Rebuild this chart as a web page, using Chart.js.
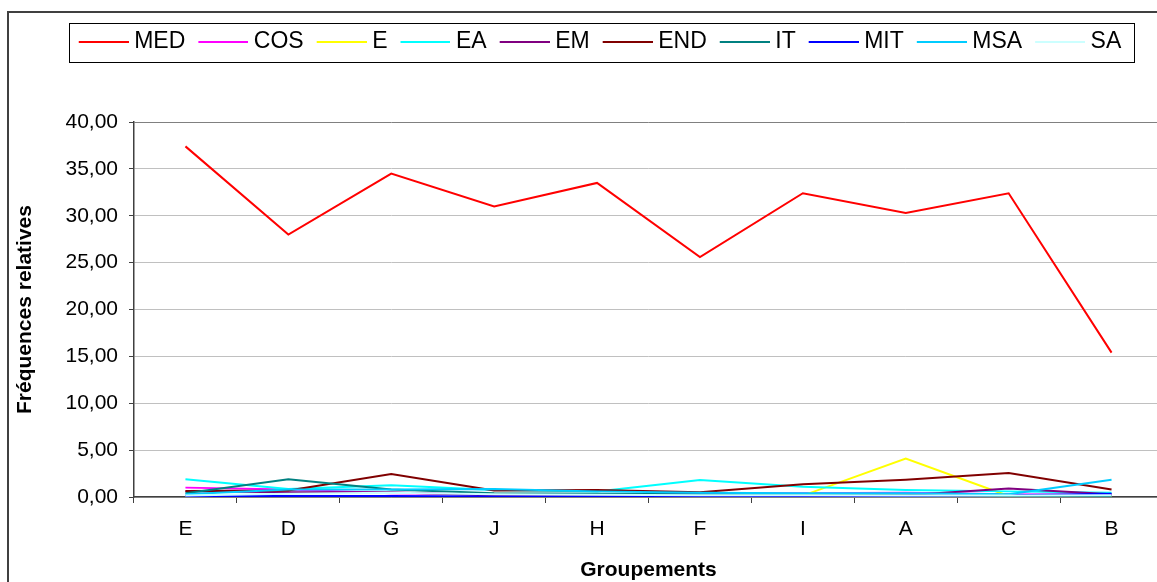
<!DOCTYPE html>
<html>
<head>
<meta charset="utf-8">
<script src="https://cdn.jsdelivr.net/npm/chart.js@4.4.0/dist/chart.umd.min.js"></script>
<style>
  html, body { margin: 0; padding: 0; overflow: hidden; background: #fff; }
  #wrap { width: 1157px; height: 582px; overflow: hidden; }
</style>
</head>
<body>
<div id="wrap"><canvas id="chart" width="1163" height="582"></canvas></div>
<script>
const groupements = ["E", "D", "G", "J", "H", "F", "I", "A", "C", "B"];
const yTickValues = [0, 5, 10, 15, 20, 25, 30, 35, 40];

const med = [37.4, 28.0, 34.5, 31.0, 33.5, 25.6, 32.4, 30.3, 32.4, 15.4];
const cos = [1.0, 0.8, 0.4, 0.3, 0.2, 0.4, 0.4, 0.45, 0.3, 0.2];
const eSerie = [0, 0, 0, 0, 0, 0, 0.15, 4.1, 0.1, 0];
const ea = [1.9, 0.85, 1.25, 0.75, 0.6, 1.8, 1.1, 0.75, 0.6, 0.45];
const em = [0.6, 0.5, 0.5, 0.15, 0.1, 0.2, 0.2, 0.2, 0.9, 0.3];
const endSerie = [0.65, 0.7, 2.45, 0.7, 0.75, 0.5, 1.35, 1.85, 2.55, 0.8];
const it = [0.4, 1.9, 0.8, 0.4, 0.35, 0.3, 0.25, 0.2, 0.1, 0.1];
const mit = [0.1, 0.1, 0.1, 0.05, 0.05, 0.0, 0.1, 0.1, 0.2, 0.35];
const msa = [0.3, 0.8, 0.8, 0.85, 0.6, 0.45, 0.4, 0.4, 0.3, 1.85];
const sa = [0.15, 0.35, 0.45, 0.3, 0.25, 0.2, 0.2, 0.15, 0.15, 0.2];

const seriesNames = ["MED", "COS", "E", "EA", "EM", "END", "IT", "MIT", "MSA", "SA"];
const seriesData = [med, cos, eSerie, ea, em, endSerie, it, mit, msa, sa];
const seriesColors = ["#ff0000", "#ff00ff", "#ffff00", "#00ffff", "#800080",
                      "#800000", "#008080", "#0000ff", "#00ccff", "#ccffff"];

Chart.defaults.font.family = "'Liberation Sans', Arial, sans-serif";
Chart.defaults.color = "#000";

// little line image for the legend, so the text sits close to its line
function legendLine(color) {
  const c = document.createElement("canvas");
  c.width = 56;
  c.height = 2;
  const g = c.getContext("2d");
  g.fillStyle = color;
  g.fillRect(6, 0, 50, 2);
  return c;
}

// excel-like frames: outer border + box around the legend
const frames = {
  id: "frames",
  afterLayout(chart) {
    const lg = chart.legend;
    const shift = 600 - (lg.left + lg.right) / 2;
    lg.left += shift;
    lg.right += shift;
  },
  afterDraw(chart) {
    const ctx = chart.ctx;
    const lg = chart.legend;
    const labels = lg.options.labels;
    const w = lg.lineWidths[0] - labels.padding;
    const cx = (lg.left + lg.right) / 2;
    const cy = lg.top + labels.padding + labels.font.size / 2;
    ctx.save();
    ctx.strokeStyle = "#000";
    ctx.lineWidth = 1;
    ctx.strokeRect(Math.round(cx - w / 2 - 10) + 0.5, Math.round(cy - 19) + 0.5, Math.round(w + 22), 39);
    ctx.strokeStyle = "#404040";
    ctx.lineWidth = 2;
    ctx.strokeRect(8, 12, chart.width, chart.height);
    ctx.restore();
  }
};

const datasets = seriesNames.map((name, i) => ({
  label: name,
  data: seriesData[i],
  borderColor: seriesColors[i],
  backgroundColor: seriesColors[i],
  borderWidth: 2,
  pointRadius: 0,
  pointStyle: legendLine(seriesColors[i]),
  tension: 0,
  order: -i
}));

new Chart(document.getElementById("chart"), {
  type: "line",
  data: { labels: groupements, datasets: datasets },
  plugins: [frames],
  options: {
    responsive: false,
    animation: false,
    layout: { padding: { top: 17, left: 0, right: 0, bottom: 0 } },
    plugins: {
      tooltip: { enabled: false },
      title: { display: true, text: "", weight: 500, font: { size: 10 }, padding: { top: 0, bottom: 47 } },
      legend: {
        position: "top",
        labels: {
          font: { size: 23 },
          usePointStyle: true,
          pointStyleWidth: 44,
          boxHeight: 23,
          padding: 13,
          sort: (a, b) => a.datasetIndex - b.datasetIndex
        }
      }
    },
    scales: {
      x: {
        offset: true,
        grid: { offset: true, drawOnChartArea: false, tickLength: 6, color: "#404040" },
        border: { color: "#404040", width: 1.5 },
        ticks: { font: { size: 21 }, padding: 14, maxRotation: 0 },
        title: { display: true, text: "Groupements", font: { size: 21, weight: "bold" }, padding: { top: 0, bottom: -1 } },
        afterFit: scale => { scale.height = 85; }
      },
      y: {
        min: 0,
        max: 40,
        afterBuildTicks: scale => { scale.ticks = yTickValues.map(v => ({ value: v })); },
        grid: {
          color: c => c.tick && c.tick.value === 40 ? "#808080" : "#c0c0c0",
          tickColor: "#404040",
          tickLength: 5
        },
        border: { color: "#404040", width: 1.5 },
        ticks: {
          font: { size: 21 },
          padding: 11,
          callback: v => v.toFixed(2).replace(".", ",")
        },
        title: { display: true, text: "Fréquences relatives", font: { size: 21, weight: "bold" }, padding: { top: 13, bottom: 0 } },
        afterFit: scale => { scale.width = 134; }
      }
    }
  }
});
</script>
</body>
</html>
